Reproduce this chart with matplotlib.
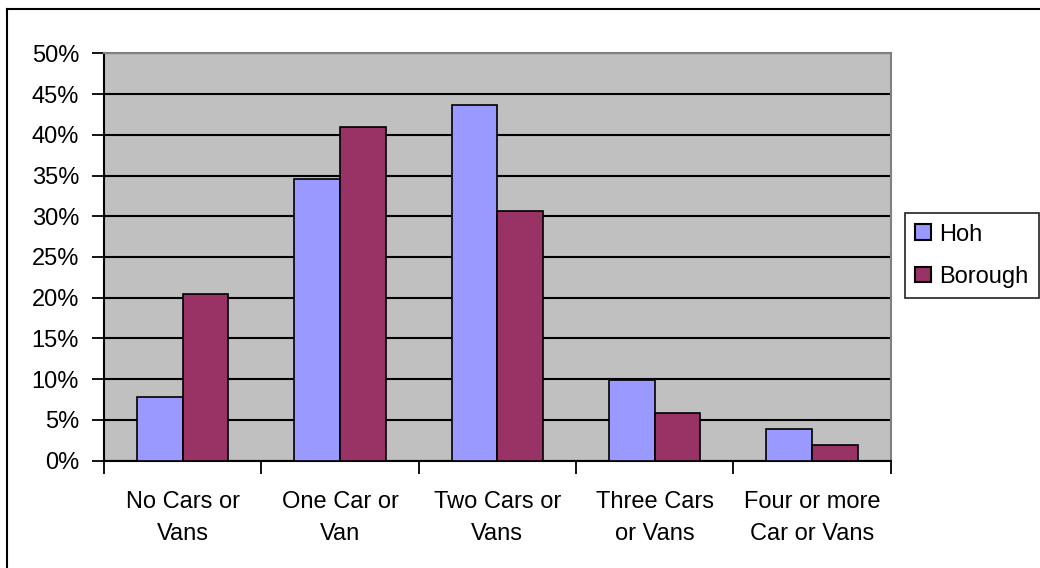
import matplotlib
matplotlib.use("Agg")
import matplotlib.pyplot as plt
from matplotlib.lines import Line2D
import numpy as np

# данные (%)
categories = ["No Cars or\nVans", "One Car or\nVan", "Two Cars or\nVans",
              "Three Cars\nor Vans", "Four or more\nCar or Vans"]
hoh = [7.8, 34.6, 43.6, 9.9, 3.9]
borough = [20.5, 40.9, 30.6, 5.8, 1.9]
y_ticks = [0, 5, 10, 15, 20, 25, 30, 35, 40, 45, 50]

plt.rcParams['font.family'] = ['Liberation Sans', 'DejaVu Sans']
fs = 17

fig = plt.figure(figsize=(10.4, 5.68), dpi=100)
ax = fig.add_axes([0.1, 0.1889, 0.7564, 0.7173])
ax.set_facecolor('#C0C0C0')

x = np.arange(len(categories))
w = 0.29
ax.bar(x - w/2, hoh, w, color='#9999FF', edgecolor='black', linewidth=1.2,
       label='Hoh', zorder=3)
ax.bar(x + w/2, borough, w, color='#993366', edgecolor='black', linewidth=1.2,
       label='Borough', zorder=3)

ax.set_xlim(-0.5, len(categories) - 0.5)
ax.set_ylim(0, 50)
ax.set_yticks(y_ticks)
ax.set_yticklabels([f"{t}%" for t in y_ticks], fontsize=fs)
ax.yaxis.grid(True, color='black', linewidth=1.5, zorder=1)
ax.set_axisbelow(True)

# деления по границам категорий, подписи по центрам
ax.set_xticks(np.arange(len(categories) + 1) - 0.5)
ax.set_xticklabels([])
ax.set_xticks(x, minor=True)
ax.set_xticklabels(categories, minor=True, fontsize=fs, linespacing=1.55)
ax.tick_params(axis='x', which='major', length=9, width=1.3, direction='out')
ax.tick_params(axis='x', which='minor', length=0, pad=22)
ax.tick_params(axis='y', length=9, width=1.3, direction='out', pad=9)

for s in ['left', 'bottom']:
    ax.spines[s].set_color('black')
    ax.spines[s].set_linewidth(1.5)
for s in ['top', 'right']:
    ax.spines[s].set_color('#808080')
    ax.spines[s].set_linewidth(1.5)

leg = ax.legend(loc='upper left', bbox_to_anchor=(0.870, 0.625),
                bbox_transform=fig.transFigure, borderaxespad=0, fontsize=fs,
                frameon=True, fancybox=False, edgecolor='black',
                handlelength=0.65, handleheight=0.65, handletextpad=0.35,
                labelspacing=0.85, borderpad=0.45)
leg.get_frame().set_linewidth(1.3)
for h in leg.legend_handles:
    h.set_edgecolor('black')
    h.set_linewidth(1.5)

# рамка вокруг диаграммы (видна только слева и сверху)
fig.add_artist(Line2D([7/1040, 7/1040], [0, 1 - 9/568], color='black',
                      linewidth=1.5, transform=fig.transFigure))
fig.add_artist(Line2D([7/1040, 1], [1 - 9/568, 1 - 9/568], color='black',
                      linewidth=1.5, transform=fig.transFigure))

fig.savefig('out.png', dpi=100, facecolor='white')
